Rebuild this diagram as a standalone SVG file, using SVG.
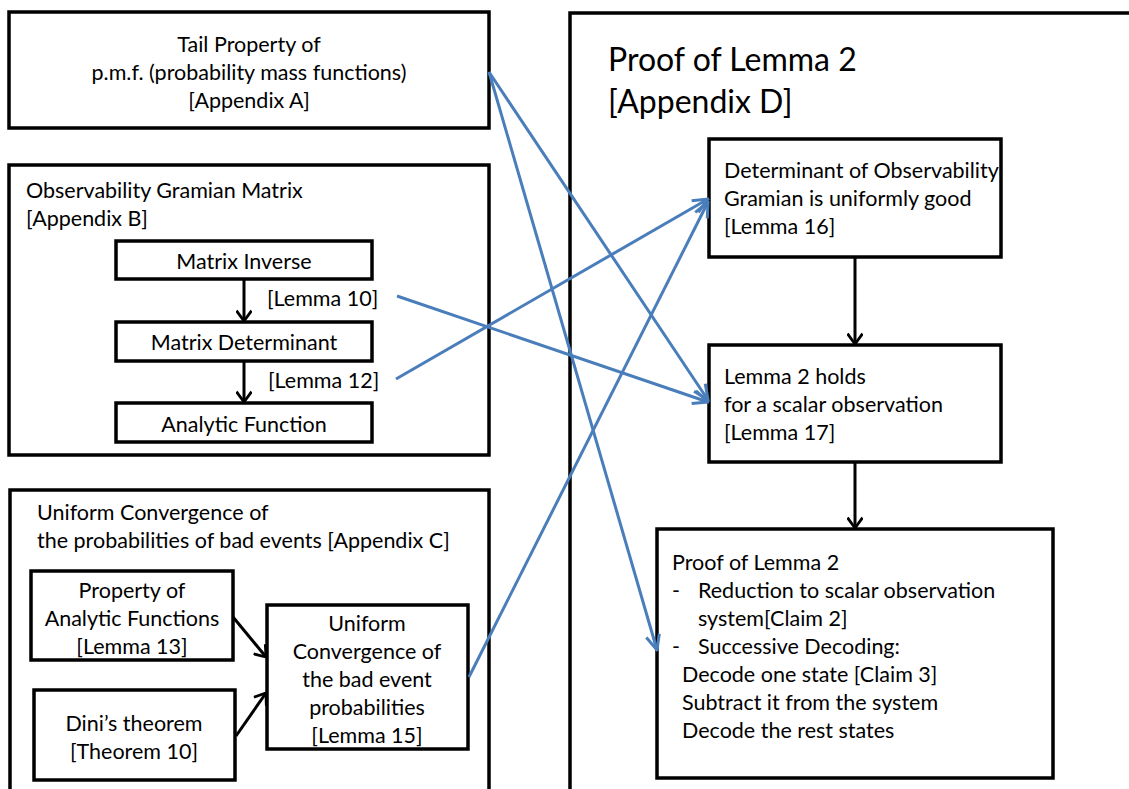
<svg xmlns="http://www.w3.org/2000/svg" width="1129" height="789" viewBox="0 0 1129 789">
<style>
text{font-family:Lato,"Liberation Sans",sans-serif;font-size:21.5px;fill:#000}
.c{text-anchor:middle}
.big{font-size:32px}
.box{fill:#fff;stroke:#000;stroke-width:3.5}
.blk{stroke:#000;stroke-width:3;fill:none}
.blu{stroke:#4a7ebb;stroke-width:3;fill:none}
</style>
<defs>
<marker id="ab" viewBox="0 0 12 12" refX="10.5" refY="6" markerWidth="5.5" markerHeight="5.5" markerUnits="strokeWidth" orient="auto">
<path d="M3,0.5 L10.5,6 L3,11.5" fill="none" stroke="#000" stroke-width="2"/>
</marker>
<marker id="au" viewBox="0 0 12 12" refX="11" refY="6" markerWidth="6" markerHeight="6" markerUnits="strokeWidth" orient="auto">
<path d="M1,1.5 L11,6 L1,10.5" fill="none" stroke="#4a7ebb" stroke-width="2"/>
</marker>
</defs>
<rect width="1129" height="789" fill="#fff"/>

<g id="panelD">
<rect class="box" x="570" y="13" width="600" height="800"/>
<text class="big" x="608" y="71">Proof of Lemma 2</text>
<text class="big" x="608" y="113">[Appendix D]</text>
</g>

<g id="appA">
<rect class="box" x="9" y="12" width="480" height="116"/>
<text class="c" x="249" y="52">Tail Property of</text>
<text class="c" x="249" y="80">p.m.f. (probability mass functions)</text>
<text class="c" x="249" y="108">[Appendix A]</text>
</g>

<g id="appB">
<rect class="box" x="9" y="165" width="480" height="290"/>
<text x="26" y="198">Observability Gramian Matrix</text>
<text x="26" y="226">[Appendix B]</text>
</g>
<g id="matInv">
<rect class="box" x="116" y="241" width="256" height="38"/>
<text class="c" x="244" y="269">Matrix Inverse</text>
</g>
<g id="matDet">
<rect class="box" x="116" y="322" width="256" height="39"/>
<text class="c" x="244" y="350">Matrix Determinant</text>
</g>
<g id="anaFun">
<rect class="box" x="116" y="403" width="256" height="39"/>
<text class="c" x="244" y="432">Analytic Function</text>
</g>

<g id="appC">
<rect class="box" x="10" y="490" width="479" height="330"/>
<text x="37" y="520">Uniform Convergence of</text>
<text x="37" y="548">the probabilities of bad events [Appendix C]</text>
</g>
<g id="propAna">
<rect class="box" x="31" y="571" width="202" height="89"/>
<text class="c" x="132" y="598">Property of</text>
<text class="c" x="132" y="626">Analytic Functions</text>
<text class="c" x="132" y="654">[Lemma 13]</text>
</g>
<g id="dini">
<rect class="box" x="34" y="690" width="201" height="90"/>
<text class="c" x="134" y="731">Dini’s theorem</text>
<text class="c" x="134" y="759">[Theorem 10]</text>
</g>
<g id="uniConv">
<rect class="box" x="267" y="605" width="201" height="144"/>
<text class="c" x="367" y="631">Uniform</text>
<text class="c" x="367" y="659">Convergence of</text>
<text class="c" x="367" y="687">the bad event</text>
<text class="c" x="367" y="715">probabilities</text>
<text class="c" x="367" y="743">[Lemma 15]</text>
</g>

<g id="detObs">
<rect class="box" x="709" y="139" width="292" height="118"/>
<text x="724" y="178">Determinant of Observability</text>
<text x="724" y="206">Gramian is uniformly good</text>
<text x="724" y="234">[Lemma 16]</text>
</g>
<g id="lem17">
<rect class="box" x="709" y="345" width="292" height="117"/>
<text x="724" y="384">Lemma 2 holds</text>
<text x="724" y="412">for a scalar observation</text>
<text x="724" y="440">[Lemma 17]</text>
</g>
<g id="proof">
<rect class="box" x="657" y="529" width="396" height="249"/>
<text x="672" y="570">Proof of Lemma 2</text>
<text x="672" y="598">-</text>
<text x="698" y="598">Reduction to scalar observation</text>
<text x="698" y="626">system[Claim 2]</text>
<text x="672" y="654">-</text>
<text x="698" y="654">Successive Decoding:</text>
<text x="682" y="682">Decode one state [Claim 3]</text>
<text x="682" y="710">Subtract it from the system</text>
<text x="682" y="738">Decode the rest states</text>
</g>

<g id="connectors">
<line class="blk" x1="244" y1="279" x2="244" y2="321" marker-end="url(#ab)"/>
<line class="blk" x1="244" y1="361" x2="244" y2="402" marker-end="url(#ab)"/>
<text x="267" y="306">[Lemma 10]</text>
<text x="268" y="388">[Lemma 12]</text>
<line class="blk" x1="233" y1="617" x2="266" y2="657" marker-end="url(#ab)"/>
<line class="blk" x1="236" y1="736" x2="266" y2="693" marker-end="url(#ab)"/>
<line class="blk" x1="855" y1="257" x2="855" y2="344" marker-end="url(#ab)"/>
<line class="blk" x1="855" y1="462" x2="855" y2="528" marker-end="url(#ab)"/>
<line class="blu" x1="489" y1="72" x2="708" y2="400" marker-end="url(#au)"/>
<line class="blu" x1="489" y1="72" x2="657" y2="650" marker-end="url(#au)"/>
<line class="blu" x1="397" y1="296" x2="708" y2="402" marker-end="url(#au)"/>
<line class="blu" x1="396" y1="379" x2="708" y2="199" marker-end="url(#au)"/>
<line class="blu" x1="469" y1="677" x2="708" y2="202" marker-end="url(#au)"/>
</g>
</svg>
